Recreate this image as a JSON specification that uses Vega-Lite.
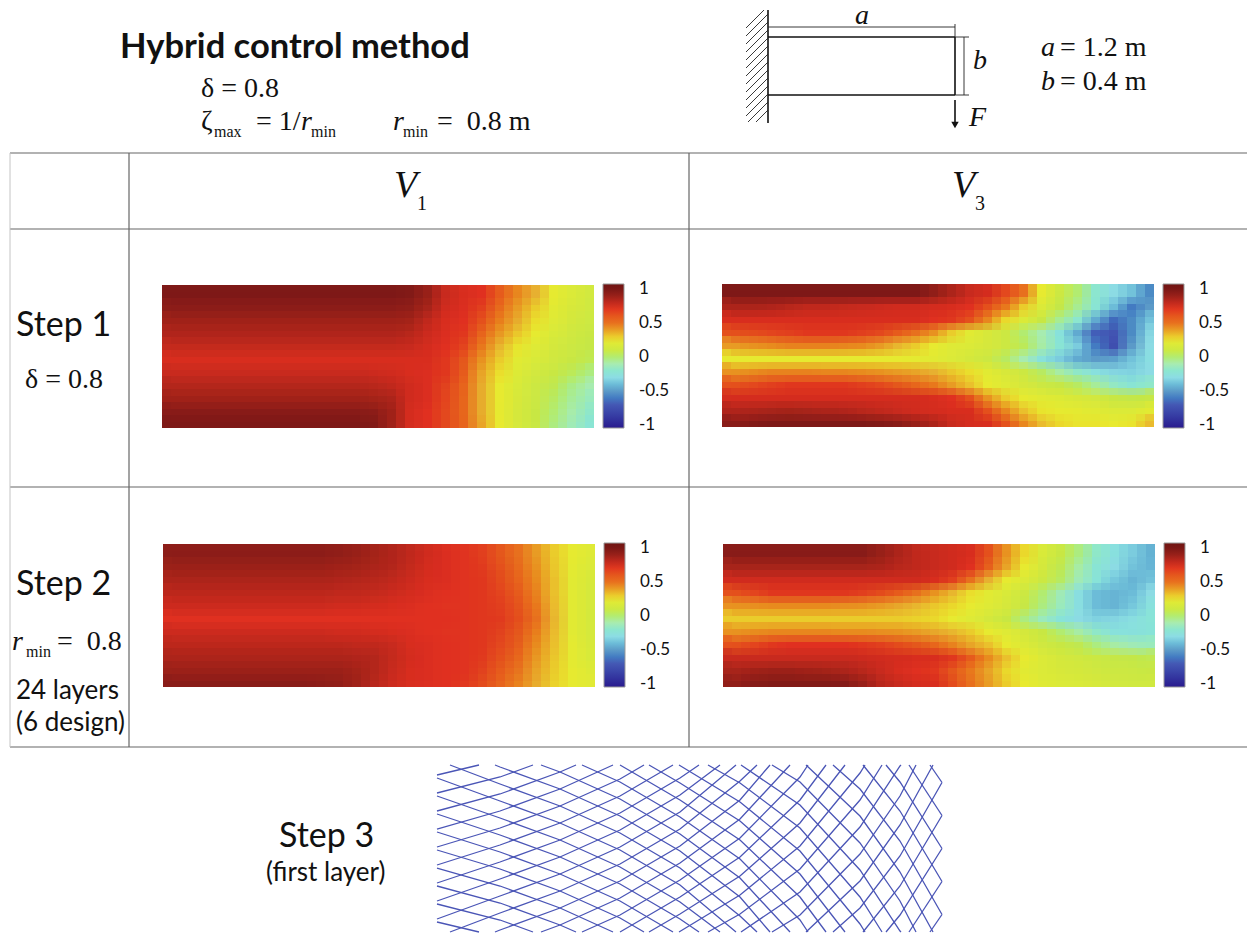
{"$schema":"https://vega.github.io/schema/vega-lite/v6.json","width":1247,"height":934,"padding":0,"autosize":{"type":"none"},"background":"white","config":{"view":{"stroke":null},"legend":{"orient":"none","direction":"vertical","title":null,"gradientLength":144,"gradientThickness":21,"gradientStrokeColor":"#999","gradientStrokeWidth":1}},
"datasets":{
"a":[{"i":0,"j":0,"v":0.97},{"i":1,"j":0,"v":0.97},{"i":2,"j":0,"v":0.97},{"i":3,"j":0,"v":0.97},{"i":4,"j":0,"v":0.97},{"i":5,"j":0,"v":0.97},{"i":6,"j":0,"v":0.97},{"i":7,"j":0,"v":0.97},{"i":8,"j":0,"v":0.97},{"i":9,"j":0,"v":0.97},{"i":10,"j":0,"v":0.97},{"i":11,"j":0,"v":0.97},{"i":12,"j":0,"v":0.97},{"i":13,"j":0,"v":0.96},{"i":14,"j":0,"v":0.9},{"i":15,"j":0,"v":0.78},{"i":16,"j":0,"v":0.74},{"i":17,"j":0,"v":0.72},{"i":18,"j":0,"v":0.58},{"i":19,"j":0,"v":0.45},{"i":20,"j":0,"v":0.35},{"i":21,"j":0,"v":0.24},{"i":22,"j":0,"v":0.18},{"i":23,"j":0,"v":0.13},
{"i":0,"j":1,"v":0.93},{"i":1,"j":1,"v":0.93},{"i":2,"j":1,"v":0.93},{"i":3,"j":1,"v":0.93},{"i":4,"j":1,"v":0.93},{"i":5,"j":1,"v":0.93},{"i":6,"j":1,"v":0.93},{"i":7,"j":1,"v":0.93},{"i":8,"j":1,"v":0.93},{"i":9,"j":1,"v":0.93},{"i":10,"j":1,"v":0.93},{"i":11,"j":1,"v":0.93},{"i":12,"j":1,"v":0.93},{"i":13,"j":1,"v":0.92},{"i":14,"j":1,"v":0.86},{"i":15,"j":1,"v":0.76},{"i":16,"j":1,"v":0.73},{"i":17,"j":1,"v":0.68},{"i":18,"j":1,"v":0.52},{"i":19,"j":1,"v":0.4},{"i":20,"j":1,"v":0.3},{"i":21,"j":1,"v":0.22},{"i":22,"j":1,"v":0.16},{"i":23,"j":1,"v":0.12},
{"i":0,"j":2,"v":0.88},{"i":1,"j":2,"v":0.88},{"i":2,"j":2,"v":0.88},{"i":3,"j":2,"v":0.88},{"i":4,"j":2,"v":0.88},{"i":5,"j":2,"v":0.88},{"i":6,"j":2,"v":0.88},{"i":7,"j":2,"v":0.88},{"i":8,"j":2,"v":0.88},{"i":9,"j":2,"v":0.88},{"i":10,"j":2,"v":0.88},{"i":11,"j":2,"v":0.88},{"i":12,"j":2,"v":0.88},{"i":13,"j":2,"v":0.87},{"i":14,"j":2,"v":0.8},{"i":15,"j":2,"v":0.74},{"i":16,"j":2,"v":0.72},{"i":17,"j":2,"v":0.62},{"i":18,"j":2,"v":0.47},{"i":19,"j":2,"v":0.36},{"i":20,"j":2,"v":0.27},{"i":21,"j":2,"v":0.2},{"i":22,"j":2,"v":0.14},{"i":23,"j":2,"v":0.1},
{"i":0,"j":3,"v":0.84},{"i":1,"j":3,"v":0.84},{"i":2,"j":3,"v":0.84},{"i":3,"j":3,"v":0.84},{"i":4,"j":3,"v":0.84},{"i":5,"j":3,"v":0.84},{"i":6,"j":3,"v":0.84},{"i":7,"j":3,"v":0.84},{"i":8,"j":3,"v":0.84},{"i":9,"j":3,"v":0.84},{"i":10,"j":3,"v":0.84},{"i":11,"j":3,"v":0.84},{"i":12,"j":3,"v":0.84},{"i":13,"j":3,"v":0.82},{"i":14,"j":3,"v":0.77},{"i":15,"j":3,"v":0.73},{"i":16,"j":3,"v":0.7},{"i":17,"j":3,"v":0.55},{"i":18,"j":3,"v":0.41},{"i":19,"j":3,"v":0.31},{"i":20,"j":3,"v":0.24},{"i":21,"j":3,"v":0.17},{"i":22,"j":3,"v":0.12},{"i":23,"j":3,"v":0.08},
{"i":0,"j":4,"v":0.79},{"i":1,"j":4,"v":0.79},{"i":2,"j":4,"v":0.79},{"i":3,"j":4,"v":0.79},{"i":4,"j":4,"v":0.79},{"i":5,"j":4,"v":0.79},{"i":6,"j":4,"v":0.79},{"i":7,"j":4,"v":0.79},{"i":8,"j":4,"v":0.79},{"i":9,"j":4,"v":0.79},{"i":10,"j":4,"v":0.79},{"i":11,"j":4,"v":0.79},{"i":12,"j":4,"v":0.79},{"i":13,"j":4,"v":0.78},{"i":14,"j":4,"v":0.75},{"i":15,"j":4,"v":0.72},{"i":16,"j":4,"v":0.66},{"i":17,"j":4,"v":0.48},{"i":18,"j":4,"v":0.34},{"i":19,"j":4,"v":0.26},{"i":20,"j":4,"v":0.2},{"i":21,"j":4,"v":0.14},{"i":22,"j":4,"v":0.1},{"i":23,"j":4,"v":0.06},
{"i":0,"j":5,"v":0.74},{"i":1,"j":5,"v":0.74},{"i":2,"j":5,"v":0.74},{"i":3,"j":5,"v":0.74},{"i":4,"j":5,"v":0.74},{"i":5,"j":5,"v":0.74},{"i":6,"j":5,"v":0.74},{"i":7,"j":5,"v":0.74},{"i":8,"j":5,"v":0.74},{"i":9,"j":5,"v":0.74},{"i":10,"j":5,"v":0.74},{"i":11,"j":5,"v":0.74},{"i":12,"j":5,"v":0.74},{"i":13,"j":5,"v":0.74},{"i":14,"j":5,"v":0.74},{"i":15,"j":5,"v":0.7},{"i":16,"j":5,"v":0.6},{"i":17,"j":5,"v":0.42},{"i":18,"j":5,"v":0.3},{"i":19,"j":5,"v":0.22},{"i":20,"j":5,"v":0.17},{"i":21,"j":5,"v":0.12},{"i":22,"j":5,"v":0.08},{"i":23,"j":5,"v":0.04},
{"i":0,"j":6,"v":0.78},{"i":1,"j":6,"v":0.78},{"i":2,"j":6,"v":0.78},{"i":3,"j":6,"v":0.78},{"i":4,"j":6,"v":0.78},{"i":5,"j":6,"v":0.78},{"i":6,"j":6,"v":0.78},{"i":7,"j":6,"v":0.78},{"i":8,"j":6,"v":0.78},{"i":9,"j":6,"v":0.78},{"i":10,"j":6,"v":0.78},{"i":11,"j":6,"v":0.77},{"i":12,"j":6,"v":0.76},{"i":13,"j":6,"v":0.74},{"i":14,"j":6,"v":0.73},{"i":15,"j":6,"v":0.7},{"i":16,"j":6,"v":0.58},{"i":17,"j":6,"v":0.38},{"i":18,"j":6,"v":0.27},{"i":19,"j":6,"v":0.19},{"i":20,"j":6,"v":0.13},{"i":21,"j":6,"v":0.08},{"i":22,"j":6,"v":0.03},{"i":23,"j":6,"v":-0.02},
{"i":0,"j":7,"v":0.83},{"i":1,"j":7,"v":0.83},{"i":2,"j":7,"v":0.83},{"i":3,"j":7,"v":0.83},{"i":4,"j":7,"v":0.83},{"i":5,"j":7,"v":0.83},{"i":6,"j":7,"v":0.83},{"i":7,"j":7,"v":0.83},{"i":8,"j":7,"v":0.83},{"i":9,"j":7,"v":0.83},{"i":10,"j":7,"v":0.83},{"i":11,"j":7,"v":0.82},{"i":12,"j":7,"v":0.8},{"i":13,"j":7,"v":0.76},{"i":14,"j":7,"v":0.73},{"i":15,"j":7,"v":0.67},{"i":16,"j":7,"v":0.55},{"i":17,"j":7,"v":0.36},{"i":18,"j":7,"v":0.25},{"i":19,"j":7,"v":0.17},{"i":20,"j":7,"v":0.1},{"i":21,"j":7,"v":0.04},{"i":22,"j":7,"v":-0.03},{"i":23,"j":7,"v":-0.1},
{"i":0,"j":8,"v":0.88},{"i":1,"j":8,"v":0.88},{"i":2,"j":8,"v":0.88},{"i":3,"j":8,"v":0.88},{"i":4,"j":8,"v":0.88},{"i":5,"j":8,"v":0.88},{"i":6,"j":8,"v":0.88},{"i":7,"j":8,"v":0.88},{"i":8,"j":8,"v":0.88},{"i":9,"j":8,"v":0.88},{"i":10,"j":8,"v":0.88},{"i":11,"j":8,"v":0.87},{"i":12,"j":8,"v":0.85},{"i":13,"j":8,"v":0.76},{"i":14,"j":8,"v":0.73},{"i":15,"j":8,"v":0.66},{"i":16,"j":8,"v":0.54},{"i":17,"j":8,"v":0.36},{"i":18,"j":8,"v":0.25},{"i":19,"j":8,"v":0.16},{"i":20,"j":8,"v":0.09},{"i":21,"j":8,"v":0.02},{"i":22,"j":8,"v":-0.06},{"i":23,"j":8,"v":-0.14},
{"i":0,"j":9,"v":0.94},{"i":1,"j":9,"v":0.94},{"i":2,"j":9,"v":0.94},{"i":3,"j":9,"v":0.94},{"i":4,"j":9,"v":0.94},{"i":5,"j":9,"v":0.94},{"i":6,"j":9,"v":0.94},{"i":7,"j":9,"v":0.94},{"i":8,"j":9,"v":0.94},{"i":9,"j":9,"v":0.94},{"i":10,"j":9,"v":0.94},{"i":11,"j":9,"v":0.93},{"i":12,"j":9,"v":0.88},{"i":13,"j":9,"v":0.75},{"i":14,"j":9,"v":0.72},{"i":15,"j":9,"v":0.65},{"i":16,"j":9,"v":0.54},{"i":17,"j":9,"v":0.36},{"i":18,"j":9,"v":0.24},{"i":19,"j":9,"v":0.15},{"i":20,"j":9,"v":0.08},{"i":21,"j":9,"v":0},{"i":22,"j":9,"v":-0.09},{"i":23,"j":9,"v":-0.18},
{"i":0,"j":10,"v":0.97},{"i":1,"j":10,"v":0.97},{"i":2,"j":10,"v":0.97},{"i":3,"j":10,"v":0.97},{"i":4,"j":10,"v":0.97},{"i":5,"j":10,"v":0.97},{"i":6,"j":10,"v":0.97},{"i":7,"j":10,"v":0.97},{"i":8,"j":10,"v":0.97},{"i":9,"j":10,"v":0.97},{"i":10,"j":10,"v":0.97},{"i":11,"j":10,"v":0.96},{"i":12,"j":10,"v":0.88},{"i":13,"j":10,"v":0.75},{"i":14,"j":10,"v":0.72},{"i":15,"j":10,"v":0.65},{"i":16,"j":10,"v":0.55},{"i":17,"j":10,"v":0.38},{"i":18,"j":10,"v":0.25},{"i":19,"j":10,"v":0.15},{"i":20,"j":10,"v":0.08},{"i":21,"j":10,"v":-0.02},{"i":22,"j":10,"v":-0.12},{"i":23,"j":10,"v":-0.22}],
"b":[{"i":0,"j":0,"v":0.97},{"i":1,"j":0,"v":0.97},{"i":2,"j":0,"v":0.97},{"i":3,"j":0,"v":0.97},{"i":4,"j":0,"v":0.97},{"i":5,"j":0,"v":0.97},{"i":6,"j":0,"v":0.97},{"i":7,"j":0,"v":0.97},{"i":8,"j":0,"v":0.97},{"i":9,"j":0,"v":0.97},{"i":10,"j":0,"v":0.97},{"i":11,"j":0,"v":0.92},{"i":12,"j":0,"v":0.85},{"i":13,"j":0,"v":0.78},{"i":14,"j":0,"v":0.75},{"i":15,"j":0,"v":0.65},{"i":16,"j":0,"v":0.5},{"i":17,"j":0,"v":0.25},{"i":18,"j":0,"v":0.1},{"i":19,"j":0,"v":0},{"i":20,"j":0,"v":-0.2},{"i":21,"j":0,"v":-0.3},{"i":22,"j":0,"v":-0.38},{"i":23,"j":0,"v":-0.55},
{"i":0,"j":1,"v":0.85},{"i":1,"j":1,"v":0.85},{"i":2,"j":1,"v":0.84},{"i":3,"j":1,"v":0.82},{"i":4,"j":1,"v":0.8},{"i":5,"j":1,"v":0.8},{"i":6,"j":1,"v":0.79},{"i":7,"j":1,"v":0.78},{"i":8,"j":1,"v":0.77},{"i":9,"j":1,"v":0.76},{"i":10,"j":1,"v":0.76},{"i":11,"j":1,"v":0.75},{"i":12,"j":1,"v":0.74},{"i":13,"j":1,"v":0.72},{"i":14,"j":1,"v":0.62},{"i":15,"j":1,"v":0.48},{"i":16,"j":1,"v":0.3},{"i":17,"j":1,"v":0.18},{"i":18,"j":1,"v":0.05},{"i":19,"j":1,"v":-0.05},{"i":20,"j":1,"v":-0.22},{"i":21,"j":1,"v":-0.4},{"i":22,"j":1,"v":-0.6},{"i":23,"j":1,"v":-0.5},
{"i":0,"j":2,"v":0.74},{"i":1,"j":2,"v":0.74},{"i":2,"j":2,"v":0.74},{"i":3,"j":2,"v":0.74},{"i":4,"j":2,"v":0.74},{"i":5,"j":2,"v":0.74},{"i":6,"j":2,"v":0.74},{"i":7,"j":2,"v":0.74},{"i":8,"j":2,"v":0.74},{"i":9,"j":2,"v":0.74},{"i":10,"j":2,"v":0.74},{"i":11,"j":2,"v":0.72},{"i":12,"j":2,"v":0.7},{"i":13,"j":2,"v":0.62},{"i":14,"j":2,"v":0.45},{"i":15,"j":2,"v":0.28},{"i":16,"j":2,"v":0.18},{"i":17,"j":2,"v":0.08},{"i":18,"j":2,"v":-0.05},{"i":19,"j":2,"v":-0.2},{"i":20,"j":2,"v":-0.45},{"i":21,"j":2,"v":-0.65},{"i":22,"j":2,"v":-0.55},{"i":23,"j":2,"v":-0.38},
{"i":0,"j":3,"v":0.62},{"i":1,"j":3,"v":0.64},{"i":2,"j":3,"v":0.66},{"i":3,"j":3,"v":0.68},{"i":4,"j":3,"v":0.7},{"i":5,"j":3,"v":0.7},{"i":6,"j":3,"v":0.7},{"i":7,"j":3,"v":0.68},{"i":8,"j":3,"v":0.65},{"i":9,"j":3,"v":0.58},{"i":10,"j":3,"v":0.5},{"i":11,"j":3,"v":0.42},{"i":12,"j":3,"v":0.3},{"i":13,"j":3,"v":0.22},{"i":14,"j":3,"v":0.16},{"i":15,"j":3,"v":0.1},{"i":16,"j":3,"v":0},{"i":17,"j":3,"v":-0.1},{"i":18,"j":3,"v":-0.25},{"i":19,"j":3,"v":-0.45},{"i":20,"j":3,"v":-0.68},{"i":21,"j":3,"v":-0.72},{"i":22,"j":3,"v":-0.55},{"i":23,"j":3,"v":-0.32},
{"i":0,"j":4,"v":0.4},{"i":1,"j":4,"v":0.42},{"i":2,"j":4,"v":0.44},{"i":3,"j":4,"v":0.46},{"i":4,"j":4,"v":0.46},{"i":5,"j":4,"v":0.46},{"i":6,"j":4,"v":0.45},{"i":7,"j":4,"v":0.44},{"i":8,"j":4,"v":0.4},{"i":9,"j":4,"v":0.34},{"i":10,"j":4,"v":0.3},{"i":11,"j":4,"v":0.25},{"i":12,"j":4,"v":0.2},{"i":13,"j":4,"v":0.18},{"i":14,"j":4,"v":0.15},{"i":15,"j":4,"v":0.1},{"i":16,"j":4,"v":0.03},{"i":17,"j":4,"v":-0.08},{"i":18,"j":4,"v":-0.22},{"i":19,"j":4,"v":-0.35},{"i":20,"j":4,"v":-0.6},{"i":21,"j":4,"v":-0.75},{"i":22,"j":4,"v":-0.5},{"i":23,"j":4,"v":-0.3},
{"i":0,"j":5,"v":0.24},{"i":1,"j":5,"v":0.24},{"i":2,"j":5,"v":0.24},{"i":3,"j":5,"v":0.24},{"i":4,"j":5,"v":0.24},{"i":5,"j":5,"v":0.24},{"i":6,"j":5,"v":0.24},{"i":7,"j":5,"v":0.24},{"i":8,"j":5,"v":0.24},{"i":9,"j":5,"v":0.24},{"i":10,"j":5,"v":0.23},{"i":11,"j":5,"v":0.22},{"i":12,"j":5,"v":0.18},{"i":13,"j":5,"v":0.14},{"i":14,"j":5,"v":0.1},{"i":15,"j":5,"v":0.02},{"i":16,"j":5,"v":-0.1},{"i":17,"j":5,"v":-0.25},{"i":18,"j":5,"v":-0.35},{"i":19,"j":5,"v":-0.45},{"i":20,"j":5,"v":-0.5},{"i":21,"j":5,"v":-0.48},{"i":22,"j":5,"v":-0.38},{"i":23,"j":5,"v":-0.28},
{"i":0,"j":6,"v":0.42},{"i":1,"j":6,"v":0.44},{"i":2,"j":6,"v":0.46},{"i":3,"j":6,"v":0.46},{"i":4,"j":6,"v":0.46},{"i":5,"j":6,"v":0.45},{"i":6,"j":6,"v":0.45},{"i":7,"j":6,"v":0.44},{"i":8,"j":6,"v":0.42},{"i":9,"j":6,"v":0.4},{"i":10,"j":6,"v":0.38},{"i":11,"j":6,"v":0.35},{"i":12,"j":6,"v":0.31},{"i":13,"j":6,"v":0.27},{"i":14,"j":6,"v":0.22},{"i":15,"j":6,"v":0.16},{"i":16,"j":6,"v":0.1},{"i":17,"j":6,"v":0.02},{"i":18,"j":6,"v":-0.08},{"i":19,"j":6,"v":-0.18},{"i":20,"j":6,"v":-0.27},{"i":21,"j":6,"v":-0.32},{"i":22,"j":6,"v":-0.33},{"i":23,"j":6,"v":-0.3},
{"i":0,"j":7,"v":0.62},{"i":1,"j":7,"v":0.65},{"i":2,"j":7,"v":0.68},{"i":3,"j":7,"v":0.7},{"i":4,"j":7,"v":0.7},{"i":5,"j":7,"v":0.7},{"i":6,"j":7,"v":0.7},{"i":7,"j":7,"v":0.68},{"i":8,"j":7,"v":0.65},{"i":9,"j":7,"v":0.6},{"i":10,"j":7,"v":0.54},{"i":11,"j":7,"v":0.48},{"i":12,"j":7,"v":0.4},{"i":13,"j":7,"v":0.32},{"i":14,"j":7,"v":0.25},{"i":15,"j":7,"v":0.2},{"i":16,"j":7,"v":0.15},{"i":17,"j":7,"v":0.1},{"i":18,"j":7,"v":0.06},{"i":19,"j":7,"v":0.02},{"i":20,"j":7,"v":-0.06},{"i":21,"j":7,"v":-0.16},{"i":22,"j":7,"v":-0.22},{"i":23,"j":7,"v":-0.18},
{"i":0,"j":8,"v":0.75},{"i":1,"j":8,"v":0.75},{"i":2,"j":8,"v":0.75},{"i":3,"j":8,"v":0.75},{"i":4,"j":8,"v":0.75},{"i":5,"j":8,"v":0.75},{"i":6,"j":8,"v":0.75},{"i":7,"j":8,"v":0.75},{"i":8,"j":8,"v":0.75},{"i":9,"j":8,"v":0.75},{"i":10,"j":8,"v":0.75},{"i":11,"j":8,"v":0.74},{"i":12,"j":8,"v":0.72},{"i":13,"j":8,"v":0.62},{"i":14,"j":8,"v":0.42},{"i":15,"j":8,"v":0.3},{"i":16,"j":8,"v":0.24},{"i":17,"j":8,"v":0.21},{"i":18,"j":8,"v":0.19},{"i":19,"j":8,"v":0.16},{"i":20,"j":8,"v":0.13},{"i":21,"j":8,"v":0.08},{"i":22,"j":8,"v":0.05},{"i":23,"j":8,"v":0.06},
{"i":0,"j":9,"v":0.84},{"i":1,"j":9,"v":0.85},{"i":2,"j":9,"v":0.86},{"i":3,"j":9,"v":0.87},{"i":4,"j":9,"v":0.86},{"i":5,"j":9,"v":0.85},{"i":6,"j":9,"v":0.84},{"i":7,"j":9,"v":0.82},{"i":8,"j":9,"v":0.8},{"i":9,"j":9,"v":0.78},{"i":10,"j":9,"v":0.76},{"i":11,"j":9,"v":0.75},{"i":12,"j":9,"v":0.74},{"i":13,"j":9,"v":0.74},{"i":14,"j":9,"v":0.62},{"i":15,"j":9,"v":0.45},{"i":16,"j":9,"v":0.32},{"i":17,"j":9,"v":0.26},{"i":18,"j":9,"v":0.24},{"i":19,"j":9,"v":0.23},{"i":20,"j":9,"v":0.21},{"i":21,"j":9,"v":0.18},{"i":22,"j":9,"v":0.18},{"i":23,"j":9,"v":0.22},
{"i":0,"j":10,"v":0.94},{"i":1,"j":10,"v":0.96},{"i":2,"j":10,"v":0.97},{"i":3,"j":10,"v":0.97},{"i":4,"j":10,"v":0.97},{"i":5,"j":10,"v":0.97},{"i":6,"j":10,"v":0.97},{"i":7,"j":10,"v":0.97},{"i":8,"j":10,"v":0.96},{"i":9,"j":10,"v":0.94},{"i":10,"j":10,"v":0.9},{"i":11,"j":10,"v":0.85},{"i":12,"j":10,"v":0.78},{"i":13,"j":10,"v":0.75},{"i":14,"j":10,"v":0.74},{"i":15,"j":10,"v":0.62},{"i":16,"j":10,"v":0.45},{"i":17,"j":10,"v":0.33},{"i":18,"j":10,"v":0.28},{"i":19,"j":10,"v":0.26},{"i":20,"j":10,"v":0.26},{"i":21,"j":10,"v":0.25},{"i":22,"j":10,"v":0.26},{"i":23,"j":10,"v":0.33}],
"c":[{"i":0,"j":0,"v":0.93},{"i":1,"j":0,"v":0.93},{"i":2,"j":0,"v":0.93},{"i":3,"j":0,"v":0.93},{"i":4,"j":0,"v":0.93},{"i":5,"j":0,"v":0.93},{"i":6,"j":0,"v":0.93},{"i":7,"j":0,"v":0.93},{"i":8,"j":0,"v":0.93},{"i":9,"j":0,"v":0.92},{"i":10,"j":0,"v":0.9},{"i":11,"j":0,"v":0.87},{"i":12,"j":0,"v":0.84},{"i":13,"j":0,"v":0.8},{"i":14,"j":0,"v":0.76},{"i":15,"j":0,"v":0.73},{"i":16,"j":0,"v":0.71},{"i":17,"j":0,"v":0.68},{"i":18,"j":0,"v":0.6},{"i":19,"j":0,"v":0.5},{"i":20,"j":0,"v":0.4},{"i":21,"j":0,"v":0.3},{"i":22,"j":0,"v":0.24},{"i":23,"j":0,"v":0.2},
{"i":0,"j":1,"v":0.89},{"i":1,"j":1,"v":0.89},{"i":2,"j":1,"v":0.89},{"i":3,"j":1,"v":0.89},{"i":4,"j":1,"v":0.89},{"i":5,"j":1,"v":0.89},{"i":6,"j":1,"v":0.89},{"i":7,"j":1,"v":0.89},{"i":8,"j":1,"v":0.89},{"i":9,"j":1,"v":0.88},{"i":10,"j":1,"v":0.87},{"i":11,"j":1,"v":0.85},{"i":12,"j":1,"v":0.83},{"i":13,"j":1,"v":0.79},{"i":14,"j":1,"v":0.75},{"i":15,"j":1,"v":0.73},{"i":16,"j":1,"v":0.71},{"i":17,"j":1,"v":0.69},{"i":18,"j":1,"v":0.62},{"i":19,"j":1,"v":0.52},{"i":20,"j":1,"v":0.42},{"i":21,"j":1,"v":0.31},{"i":22,"j":1,"v":0.23},{"i":23,"j":1,"v":0.18},
{"i":0,"j":2,"v":0.85},{"i":1,"j":2,"v":0.85},{"i":2,"j":2,"v":0.85},{"i":3,"j":2,"v":0.85},{"i":4,"j":2,"v":0.85},{"i":5,"j":2,"v":0.85},{"i":6,"j":2,"v":0.85},{"i":7,"j":2,"v":0.85},{"i":8,"j":2,"v":0.85},{"i":9,"j":2,"v":0.84},{"i":10,"j":2,"v":0.83},{"i":11,"j":2,"v":0.82},{"i":12,"j":2,"v":0.8},{"i":13,"j":2,"v":0.77},{"i":14,"j":2,"v":0.74},{"i":15,"j":2,"v":0.73},{"i":16,"j":2,"v":0.71},{"i":17,"j":2,"v":0.7},{"i":18,"j":2,"v":0.64},{"i":19,"j":2,"v":0.55},{"i":20,"j":2,"v":0.44},{"i":21,"j":2,"v":0.32},{"i":22,"j":2,"v":0.22},{"i":23,"j":2,"v":0.16},
{"i":0,"j":3,"v":0.81},{"i":1,"j":3,"v":0.81},{"i":2,"j":3,"v":0.81},{"i":3,"j":3,"v":0.81},{"i":4,"j":3,"v":0.81},{"i":5,"j":3,"v":0.81},{"i":6,"j":3,"v":0.81},{"i":7,"j":3,"v":0.81},{"i":8,"j":3,"v":0.81},{"i":9,"j":3,"v":0.8},{"i":10,"j":3,"v":0.8},{"i":11,"j":3,"v":0.79},{"i":12,"j":3,"v":0.77},{"i":13,"j":3,"v":0.75},{"i":14,"j":3,"v":0.73},{"i":15,"j":3,"v":0.72},{"i":16,"j":3,"v":0.71},{"i":17,"j":3,"v":0.7},{"i":18,"j":3,"v":0.66},{"i":19,"j":3,"v":0.58},{"i":20,"j":3,"v":0.46},{"i":21,"j":3,"v":0.32},{"i":22,"j":3,"v":0.22},{"i":23,"j":3,"v":0.15},
{"i":0,"j":4,"v":0.77},{"i":1,"j":4,"v":0.77},{"i":2,"j":4,"v":0.77},{"i":3,"j":4,"v":0.77},{"i":4,"j":4,"v":0.77},{"i":5,"j":4,"v":0.77},{"i":6,"j":4,"v":0.77},{"i":7,"j":4,"v":0.77},{"i":8,"j":4,"v":0.77},{"i":9,"j":4,"v":0.76},{"i":10,"j":4,"v":0.76},{"i":11,"j":4,"v":0.75},{"i":12,"j":4,"v":0.74},{"i":13,"j":4,"v":0.73},{"i":14,"j":4,"v":0.72},{"i":15,"j":4,"v":0.71},{"i":16,"j":4,"v":0.71},{"i":17,"j":4,"v":0.7},{"i":18,"j":4,"v":0.68},{"i":19,"j":4,"v":0.61},{"i":20,"j":4,"v":0.48},{"i":21,"j":4,"v":0.33},{"i":22,"j":4,"v":0.22},{"i":23,"j":4,"v":0.15},
{"i":0,"j":5,"v":0.72},{"i":1,"j":5,"v":0.72},{"i":2,"j":5,"v":0.72},{"i":3,"j":5,"v":0.72},{"i":4,"j":5,"v":0.72},{"i":5,"j":5,"v":0.72},{"i":6,"j":5,"v":0.72},{"i":7,"j":5,"v":0.72},{"i":8,"j":5,"v":0.72},{"i":9,"j":5,"v":0.72},{"i":10,"j":5,"v":0.72},{"i":11,"j":5,"v":0.72},{"i":12,"j":5,"v":0.72},{"i":13,"j":5,"v":0.72},{"i":14,"j":5,"v":0.72},{"i":15,"j":5,"v":0.72},{"i":16,"j":5,"v":0.71},{"i":17,"j":5,"v":0.7},{"i":18,"j":5,"v":0.69},{"i":19,"j":5,"v":0.63},{"i":20,"j":5,"v":0.5},{"i":21,"j":5,"v":0.34},{"i":22,"j":5,"v":0.22},{"i":23,"j":5,"v":0.14},
{"i":0,"j":6,"v":0.77},{"i":1,"j":6,"v":0.77},{"i":2,"j":6,"v":0.77},{"i":3,"j":6,"v":0.77},{"i":4,"j":6,"v":0.77},{"i":5,"j":6,"v":0.77},{"i":6,"j":6,"v":0.77},{"i":7,"j":6,"v":0.77},{"i":8,"j":6,"v":0.77},{"i":9,"j":6,"v":0.76},{"i":10,"j":6,"v":0.76},{"i":11,"j":6,"v":0.75},{"i":12,"j":6,"v":0.74},{"i":13,"j":6,"v":0.73},{"i":14,"j":6,"v":0.72},{"i":15,"j":6,"v":0.71},{"i":16,"j":6,"v":0.71},{"i":17,"j":6,"v":0.7},{"i":18,"j":6,"v":0.67},{"i":19,"j":6,"v":0.6},{"i":20,"j":6,"v":0.47},{"i":21,"j":6,"v":0.33},{"i":22,"j":6,"v":0.22},{"i":23,"j":6,"v":0.15},
{"i":0,"j":7,"v":0.81},{"i":1,"j":7,"v":0.81},{"i":2,"j":7,"v":0.81},{"i":3,"j":7,"v":0.81},{"i":4,"j":7,"v":0.81},{"i":5,"j":7,"v":0.81},{"i":6,"j":7,"v":0.81},{"i":7,"j":7,"v":0.81},{"i":8,"j":7,"v":0.81},{"i":9,"j":7,"v":0.81},{"i":10,"j":7,"v":0.8},{"i":11,"j":7,"v":0.8},{"i":12,"j":7,"v":0.78},{"i":13,"j":7,"v":0.74},{"i":14,"j":7,"v":0.73},{"i":15,"j":7,"v":0.72},{"i":16,"j":7,"v":0.71},{"i":17,"j":7,"v":0.7},{"i":18,"j":7,"v":0.65},{"i":19,"j":7,"v":0.57},{"i":20,"j":7,"v":0.44},{"i":21,"j":7,"v":0.32},{"i":22,"j":7,"v":0.23},{"i":23,"j":7,"v":0.16},
{"i":0,"j":8,"v":0.85},{"i":1,"j":8,"v":0.85},{"i":2,"j":8,"v":0.85},{"i":3,"j":8,"v":0.85},{"i":4,"j":8,"v":0.85},{"i":5,"j":8,"v":0.85},{"i":6,"j":8,"v":0.85},{"i":7,"j":8,"v":0.85},{"i":8,"j":8,"v":0.85},{"i":9,"j":8,"v":0.85},{"i":10,"j":8,"v":0.84},{"i":11,"j":8,"v":0.83},{"i":12,"j":8,"v":0.79},{"i":13,"j":8,"v":0.75},{"i":14,"j":8,"v":0.73},{"i":15,"j":8,"v":0.72},{"i":16,"j":8,"v":0.71},{"i":17,"j":8,"v":0.69},{"i":18,"j":8,"v":0.62},{"i":19,"j":8,"v":0.53},{"i":20,"j":8,"v":0.41},{"i":21,"j":8,"v":0.31},{"i":22,"j":8,"v":0.23},{"i":23,"j":8,"v":0.17},
{"i":0,"j":9,"v":0.89},{"i":1,"j":9,"v":0.89},{"i":2,"j":9,"v":0.89},{"i":3,"j":9,"v":0.89},{"i":4,"j":9,"v":0.89},{"i":5,"j":9,"v":0.89},{"i":6,"j":9,"v":0.89},{"i":7,"j":9,"v":0.89},{"i":8,"j":9,"v":0.89},{"i":9,"j":9,"v":0.89},{"i":10,"j":9,"v":0.87},{"i":11,"j":9,"v":0.83},{"i":12,"j":9,"v":0.78},{"i":13,"j":9,"v":0.74},{"i":14,"j":9,"v":0.73},{"i":15,"j":9,"v":0.72},{"i":16,"j":9,"v":0.71},{"i":17,"j":9,"v":0.67},{"i":18,"j":9,"v":0.58},{"i":19,"j":9,"v":0.49},{"i":20,"j":9,"v":0.38},{"i":21,"j":9,"v":0.3},{"i":22,"j":9,"v":0.24},{"i":23,"j":9,"v":0.19},
{"i":0,"j":10,"v":0.94},{"i":1,"j":10,"v":0.94},{"i":2,"j":10,"v":0.94},{"i":3,"j":10,"v":0.94},{"i":4,"j":10,"v":0.94},{"i":5,"j":10,"v":0.94},{"i":6,"j":10,"v":0.94},{"i":7,"j":10,"v":0.94},{"i":8,"j":10,"v":0.93},{"i":9,"j":10,"v":0.92},{"i":10,"j":10,"v":0.88},{"i":11,"j":10,"v":0.82},{"i":12,"j":10,"v":0.77},{"i":13,"j":10,"v":0.74},{"i":14,"j":10,"v":0.73},{"i":15,"j":10,"v":0.72},{"i":16,"j":10,"v":0.7},{"i":17,"j":10,"v":0.64},{"i":18,"j":10,"v":0.55},{"i":19,"j":10,"v":0.46},{"i":20,"j":10,"v":0.36},{"i":21,"j":10,"v":0.29},{"i":22,"j":10,"v":0.24},{"i":23,"j":10,"v":0.21}],
"d":[{"i":0,"j":0,"v":0.94},{"i":1,"j":0,"v":0.94},{"i":2,"j":0,"v":0.94},{"i":3,"j":0,"v":0.94},{"i":4,"j":0,"v":0.94},{"i":5,"j":0,"v":0.94},{"i":6,"j":0,"v":0.94},{"i":7,"j":0,"v":0.94},{"i":8,"j":0,"v":0.9},{"i":9,"j":0,"v":0.85},{"i":10,"j":0,"v":0.8},{"i":11,"j":0,"v":0.78},{"i":12,"j":0,"v":0.76},{"i":13,"j":0,"v":0.74},{"i":14,"j":0,"v":0.62},{"i":15,"j":0,"v":0.42},{"i":16,"j":0,"v":0.28},{"i":17,"j":0,"v":0.17},{"i":18,"j":0,"v":0.08},{"i":19,"j":0,"v":-0.02},{"i":20,"j":0,"v":-0.18},{"i":21,"j":0,"v":-0.27},{"i":22,"j":0,"v":-0.35},{"i":23,"j":0,"v":-0.43},
{"i":0,"j":1,"v":0.86},{"i":1,"j":1,"v":0.86},{"i":2,"j":1,"v":0.86},{"i":3,"j":1,"v":0.86},{"i":4,"j":1,"v":0.86},{"i":5,"j":1,"v":0.86},{"i":6,"j":1,"v":0.86},{"i":7,"j":1,"v":0.86},{"i":8,"j":1,"v":0.85},{"i":9,"j":1,"v":0.82},{"i":10,"j":1,"v":0.8},{"i":11,"j":1,"v":0.78},{"i":12,"j":1,"v":0.76},{"i":13,"j":1,"v":0.72},{"i":14,"j":1,"v":0.56},{"i":15,"j":1,"v":0.38},{"i":16,"j":1,"v":0.25},{"i":17,"j":1,"v":0.14},{"i":18,"j":1,"v":0.04},{"i":19,"j":1,"v":-0.08},{"i":20,"j":1,"v":-0.22},{"i":21,"j":1,"v":-0.3},{"i":22,"j":1,"v":-0.38},{"i":23,"j":1,"v":-0.42},
{"i":0,"j":2,"v":0.76},{"i":1,"j":2,"v":0.76},{"i":2,"j":2,"v":0.76},{"i":3,"j":2,"v":0.76},{"i":4,"j":2,"v":0.76},{"i":5,"j":2,"v":0.76},{"i":6,"j":2,"v":0.76},{"i":7,"j":2,"v":0.76},{"i":8,"j":2,"v":0.76},{"i":9,"j":2,"v":0.76},{"i":10,"j":2,"v":0.76},{"i":11,"j":2,"v":0.74},{"i":12,"j":2,"v":0.68},{"i":13,"j":2,"v":0.5},{"i":14,"j":2,"v":0.35},{"i":15,"j":2,"v":0.25},{"i":16,"j":2,"v":0.18},{"i":17,"j":2,"v":0.1},{"i":18,"j":2,"v":0.02},{"i":19,"j":2,"v":-0.12},{"i":20,"j":2,"v":-0.24},{"i":21,"j":2,"v":-0.36},{"i":22,"j":2,"v":-0.42},{"i":23,"j":2,"v":-0.38},
{"i":0,"j":3,"v":0.62},{"i":1,"j":3,"v":0.66},{"i":2,"j":3,"v":0.7},{"i":3,"j":3,"v":0.7},{"i":4,"j":3,"v":0.7},{"i":5,"j":3,"v":0.7},{"i":6,"j":3,"v":0.7},{"i":7,"j":3,"v":0.68},{"i":8,"j":3,"v":0.64},{"i":9,"j":3,"v":0.58},{"i":10,"j":3,"v":0.5},{"i":11,"j":3,"v":0.42},{"i":12,"j":3,"v":0.34},{"i":13,"j":3,"v":0.27},{"i":14,"j":3,"v":0.22},{"i":15,"j":3,"v":0.17},{"i":16,"j":3,"v":0.1},{"i":17,"j":3,"v":0},{"i":18,"j":3,"v":-0.12},{"i":19,"j":3,"v":-0.28},{"i":20,"j":3,"v":-0.4},{"i":21,"j":3,"v":-0.42},{"i":22,"j":3,"v":-0.4},{"i":23,"j":3,"v":-0.3},
{"i":0,"j":4,"v":0.42},{"i":1,"j":4,"v":0.43},{"i":2,"j":4,"v":0.44},{"i":3,"j":4,"v":0.44},{"i":4,"j":4,"v":0.44},{"i":5,"j":4,"v":0.44},{"i":6,"j":4,"v":0.43},{"i":7,"j":4,"v":0.42},{"i":8,"j":4,"v":0.4},{"i":9,"j":4,"v":0.37},{"i":10,"j":4,"v":0.34},{"i":11,"j":4,"v":0.31},{"i":12,"j":4,"v":0.28},{"i":13,"j":4,"v":0.25},{"i":14,"j":4,"v":0.2},{"i":15,"j":4,"v":0.15},{"i":16,"j":4,"v":0.07},{"i":17,"j":4,"v":-0.02},{"i":18,"j":4,"v":-0.14},{"i":19,"j":4,"v":-0.28},{"i":20,"j":4,"v":-0.4},{"i":21,"j":4,"v":-0.42},{"i":22,"j":4,"v":-0.36},{"i":23,"j":4,"v":-0.26},
{"i":0,"j":5,"v":0.3},{"i":1,"j":5,"v":0.3},{"i":2,"j":5,"v":0.3},{"i":3,"j":5,"v":0.3},{"i":4,"j":5,"v":0.3},{"i":5,"j":5,"v":0.3},{"i":6,"j":5,"v":0.3},{"i":7,"j":5,"v":0.3},{"i":8,"j":5,"v":0.3},{"i":9,"j":5,"v":0.3},{"i":10,"j":5,"v":0.29},{"i":11,"j":5,"v":0.28},{"i":12,"j":5,"v":0.25},{"i":13,"j":5,"v":0.2},{"i":14,"j":5,"v":0.14},{"i":15,"j":5,"v":0.08},{"i":16,"j":5,"v":-0.02},{"i":17,"j":5,"v":-0.14},{"i":18,"j":5,"v":-0.24},{"i":19,"j":5,"v":-0.3},{"i":20,"j":5,"v":-0.33},{"i":21,"j":5,"v":-0.32},{"i":22,"j":5,"v":-0.28},{"i":23,"j":5,"v":-0.23},
{"i":0,"j":6,"v":0.42},{"i":1,"j":6,"v":0.44},{"i":2,"j":6,"v":0.45},{"i":3,"j":6,"v":0.45},{"i":4,"j":6,"v":0.45},{"i":5,"j":6,"v":0.45},{"i":6,"j":6,"v":0.44},{"i":7,"j":6,"v":0.44},{"i":8,"j":6,"v":0.43},{"i":9,"j":6,"v":0.42},{"i":10,"j":6,"v":0.4},{"i":11,"j":6,"v":0.37},{"i":12,"j":6,"v":0.34},{"i":13,"j":6,"v":0.3},{"i":14,"j":6,"v":0.25},{"i":15,"j":6,"v":0.2},{"i":16,"j":6,"v":0.14},{"i":17,"j":6,"v":0.08},{"i":18,"j":6,"v":0},{"i":19,"j":6,"v":-0.08},{"i":20,"j":6,"v":-0.18},{"i":21,"j":6,"v":-0.25},{"i":22,"j":6,"v":-0.26},{"i":23,"j":6,"v":-0.24},
{"i":0,"j":7,"v":0.62},{"i":1,"j":7,"v":0.66},{"i":2,"j":7,"v":0.7},{"i":3,"j":7,"v":0.72},{"i":4,"j":7,"v":0.72},{"i":5,"j":7,"v":0.72},{"i":6,"j":7,"v":0.72},{"i":7,"j":7,"v":0.7},{"i":8,"j":7,"v":0.68},{"i":9,"j":7,"v":0.64},{"i":10,"j":7,"v":0.6},{"i":11,"j":7,"v":0.54},{"i":12,"j":7,"v":0.46},{"i":13,"j":7,"v":0.38},{"i":14,"j":7,"v":0.32},{"i":15,"j":7,"v":0.25},{"i":16,"j":7,"v":0.18},{"i":17,"j":7,"v":0.12},{"i":18,"j":7,"v":0.08},{"i":19,"j":7,"v":0.04},{"i":20,"j":7,"v":-0.02},{"i":21,"j":7,"v":-0.08},{"i":22,"j":7,"v":-0.12},{"i":23,"j":7,"v":-0.14},
{"i":0,"j":8,"v":0.78},{"i":1,"j":8,"v":0.78},{"i":2,"j":8,"v":0.78},{"i":3,"j":8,"v":0.78},{"i":4,"j":8,"v":0.78},{"i":5,"j":8,"v":0.78},{"i":6,"j":8,"v":0.78},{"i":7,"j":8,"v":0.77},{"i":8,"j":8,"v":0.76},{"i":9,"j":8,"v":0.75},{"i":10,"j":8,"v":0.74},{"i":11,"j":8,"v":0.74},{"i":12,"j":8,"v":0.7},{"i":13,"j":8,"v":0.58},{"i":14,"j":8,"v":0.44},{"i":15,"j":8,"v":0.32},{"i":16,"j":8,"v":0.25},{"i":17,"j":8,"v":0.18},{"i":18,"j":8,"v":0.14},{"i":19,"j":8,"v":0.12},{"i":20,"j":8,"v":0.09},{"i":21,"j":8,"v":0.06},{"i":22,"j":8,"v":0.05},{"i":23,"j":8,"v":0.04},
{"i":0,"j":9,"v":0.86},{"i":1,"j":9,"v":0.88},{"i":2,"j":9,"v":0.89},{"i":3,"j":9,"v":0.89},{"i":4,"j":9,"v":0.88},{"i":5,"j":9,"v":0.87},{"i":6,"j":9,"v":0.85},{"i":7,"j":9,"v":0.82},{"i":8,"j":9,"v":0.78},{"i":9,"j":9,"v":0.74},{"i":10,"j":9,"v":0.72},{"i":11,"j":9,"v":0.7},{"i":12,"j":9,"v":0.6},{"i":13,"j":9,"v":0.48},{"i":14,"j":9,"v":0.38},{"i":15,"j":9,"v":0.28},{"i":16,"j":9,"v":0.22},{"i":17,"j":9,"v":0.18},{"i":18,"j":9,"v":0.16},{"i":19,"j":9,"v":0.14},{"i":20,"j":9,"v":0.12},{"i":21,"j":9,"v":0.1},{"i":22,"j":9,"v":0.09},{"i":23,"j":9,"v":0.08},
{"i":0,"j":10,"v":0.92},{"i":1,"j":10,"v":0.95},{"i":2,"j":10,"v":0.96},{"i":3,"j":10,"v":0.96},{"i":4,"j":10,"v":0.96},{"i":5,"j":10,"v":0.96},{"i":6,"j":10,"v":0.95},{"i":7,"j":10,"v":0.9},{"i":8,"j":10,"v":0.82},{"i":9,"j":10,"v":0.78},{"i":10,"j":10,"v":0.75},{"i":11,"j":10,"v":0.74},{"i":12,"j":10,"v":0.64},{"i":13,"j":10,"v":0.5},{"i":14,"j":10,"v":0.4},{"i":15,"j":10,"v":0.3},{"i":16,"j":10,"v":0.25},{"i":17,"j":10,"v":0.2},{"i":18,"j":10,"v":0.18},{"i":19,"j":10,"v":0.17},{"i":20,"j":10,"v":0.15},{"i":21,"j":10,"v":0.13},{"i":22,"j":10,"v":0.12},{"i":23,"j":10,"v":0.12}],
"fibre":[{"k":-5,"x":0,"y":157},{"k":-5,"x":42,"y":167},{"k":-4,"x":0,"y":139},{"k":-4,"x":63,"y":155},{"k":-4,"x":96,"y":167},{"k":-3,"x":0,"y":121},{"k":-3,"x":63,"y":138},{"k":-3,"x":123,"y":160},{"k":-3,"x":139,"y":167},{"k":-2,"x":0,"y":103},{"k":-2,"x":63,"y":121},{"k":-2,"x":123,"y":143},{"k":-2,"x":176,"y":167},{"k":-1,"x":0,"y":85},{"k":-1,"x":63,"y":104},{"k":-1,"x":123,"y":126},{"k":-1,"x":183,"y":153},{"k":-1,"x":207,"y":167},{"k":0,"x":0,"y":67},{"k":0,"x":63,"y":87},{"k":0,"x":123,"y":109},{"k":0,"x":183,"y":136},{"k":0,"x":236,"y":167},{"k":1,"x":0,"y":49},{"k":1,"x":63,"y":70},{"k":1,"x":123,"y":92},{"k":1,"x":183,"y":119},{"k":1,"x":243,"y":154},{"k":1,"x":262,"y":167},{"k":2,"x":0,"y":31},{"k":2,"x":63,"y":53},{"k":2,"x":123,"y":75},{"k":2,"x":183,"y":102},{"k":2,"x":243,"y":137},{"k":2,"x":283,"y":167},{"k":3,"x":0,"y":13},{"k":3,"x":63,"y":36},{"k":3,"x":123,"y":58},{"k":3,"x":183,"y":85},{"k":3,"x":243,"y":120},{"k":3,"x":299,"y":167},{"k":4,"x":13,"y":0},{"k":4,"x":63,"y":19},{"k":4,"x":123,"y":41},{"k":4,"x":183,"y":68},{"k":4,"x":243,"y":103},{"k":4,"x":303,"y":151},{"k":4,"x":320,"y":167},{"k":5,"x":58,"y":0},{"k":5,"x":63,"y":2},{"k":5,"x":123,"y":24},{"k":5,"x":183,"y":51},{"k":5,"x":243,"y":86},{"k":5,"x":303,"y":132},{"k":5,"x":333,"y":167},{"k":6,"x":104,"y":0},{"k":6,"x":123,"y":7},{"k":6,"x":183,"y":34},{"k":6,"x":243,"y":69},{"k":6,"x":303,"y":113},{"k":6,"x":353,"y":167},{"k":7,"x":145,"y":0},{"k":7,"x":183,"y":17},{"k":7,"x":243,"y":52},{"k":7,"x":303,"y":94},{"k":7,"x":363,"y":155},{"k":7,"x":371,"y":167},{"k":8,"x":183,"y":0},{"k":8,"x":243,"y":35},{"k":8,"x":303,"y":75},{"k":8,"x":363,"y":132},{"k":8,"x":389,"y":167},{"k":9,"x":212,"y":0},{"k":9,"x":243,"y":18},{"k":9,"x":303,"y":56},{"k":9,"x":363,"y":109},{"k":9,"x":408,"y":167},{"k":10,"x":242,"y":0},{"k":10,"x":303,"y":37},{"k":10,"x":363,"y":86},{"k":10,"x":423,"y":159},{"k":10,"x":428,"y":167},{"k":11,"x":271,"y":0},{"k":11,"x":303,"y":18},{"k":11,"x":363,"y":63},{"k":11,"x":423,"y":132},{"k":11,"x":445,"y":167},{"k":12,"x":304,"y":0},{"k":12,"x":363,"y":40},{"k":12,"x":423,"y":105},{"k":12,"x":463,"y":166},{"k":12,"x":464,"y":167},{"k":13,"x":335,"y":0},{"k":13,"x":363,"y":17},{"k":13,"x":423,"y":78},{"k":13,"x":463,"y":136},{"k":13,"x":479,"y":167},{"k":14,"x":369,"y":0},{"k":14,"x":423,"y":51},{"k":14,"x":463,"y":107},{"k":14,"x":496,"y":167},{"k":15,"x":396,"y":0},{"k":15,"x":423,"y":24},{"k":15,"x":463,"y":76},{"k":15,"x":505,"y":149.5},{"k":16,"x":426,"y":0},{"k":16,"x":463,"y":46},{"k":16,"x":505,"y":116.5},{"k":17,"x":449,"y":0},{"k":17,"x":463,"y":17},{"k":17,"x":505,"y":83.5},{"k":18,"x":472,"y":0},{"k":18,"x":505,"y":50.5},{"k":19,"x":493,"y":0},{"k":19,"x":505,"y":17.5}]
},
"resolve":{"scale":{"x":"independent","y":"independent","color":"independent"}},
"layer":[
{"data":{"name":"a"},"mark":{"type":"rect"},"encoding":{"x":{"field":"i","type":"ordinal","axis":null,"scale":{"range":[162,594],"paddingInner":0,"paddingOuter":0}},"y":{"field":"j","type":"ordinal","axis":null,"scale":{"range":[285,428],"paddingInner":0,"paddingOuter":0}},"color":{"field":"v","type":"quantitative","scale":{"domain":[-1.04,-0.7,-0.5,-0.3,-0.1,0.05,0.25,0.35,0.5,0.72,0.88,0.97,1.07],"range":["#2a1a8e","#4458b4","#5b9ac8","#8cdce4","#a8ecb0","#c4e848","#e8ea30","#e8b030","#e8701e","#e03020","#a02219","#7e1917","#701412"]},"legend":{"legendX":603,"legendY":284,"values":[1,0.5,0,-0.5,-1],"labelExpr":"''+datum.value","labelFont":"Lato","labelFontSize":17,"labelColor":"#111","labelOffset":15,"labelAlign":"center","labelBaseline":"middle","labelOverlap":false}}}},
{"data":{"name":"a"},"transform":[{"filter":"datum.i<23"}],"mark":{"type":"rect","opacity":0.5},"encoding":{"x":{"field":"i","type":"ordinal","axis":null,"scale":{"range":[171,585],"paddingInner":0,"paddingOuter":0}},"y":{"field":"j","type":"ordinal","axis":null,"scale":{"range":[285,428],"paddingInner":0,"paddingOuter":0}},"color":{"field":"v","type":"quantitative","legend":null,"scale":{"domain":[-1.04,-0.7,-0.5,-0.3,-0.1,0.05,0.25,0.35,0.5,0.72,0.88,0.97,1.07],"range":["#2a1a8e","#4458b4","#5b9ac8","#8cdce4","#a8ecb0","#c4e848","#e8ea30","#e8b030","#e8701e","#e03020","#a02219","#7e1917","#701412"]}}}},
{"data":{"name":"a"},"transform":[{"filter":"datum.j<10"}],"mark":{"type":"rect","opacity":0.33},"encoding":{"x":{"field":"i","type":"ordinal","axis":null,"scale":{"range":[162,594],"paddingInner":0,"paddingOuter":0}},"y":{"field":"j","type":"ordinal","axis":null,"scale":{"range":[292,422],"paddingInner":0,"paddingOuter":0}},"color":{"field":"v","type":"quantitative","legend":null,"scale":{"domain":[-1.04,-0.7,-0.5,-0.3,-0.1,0.05,0.25,0.35,0.5,0.72,0.88,0.97,1.07],"range":["#2a1a8e","#4458b4","#5b9ac8","#8cdce4","#a8ecb0","#c4e848","#e8ea30","#e8b030","#e8701e","#e03020","#a02219","#7e1917","#701412"]}}}},
{"data":{"name":"a"},"transform":[{"filter":"datum.i<23&&datum.j<10"}],"mark":{"type":"rect","opacity":0.25},"encoding":{"x":{"field":"i","type":"ordinal","axis":null,"scale":{"range":[171,585],"paddingInner":0,"paddingOuter":0}},"y":{"field":"j","type":"ordinal","axis":null,"scale":{"range":[292,422],"paddingInner":0,"paddingOuter":0}},"color":{"field":"v","type":"quantitative","legend":null,"scale":{"domain":[-1.04,-0.7,-0.5,-0.3,-0.1,0.05,0.25,0.35,0.5,0.72,0.88,0.97,1.07],"range":["#2a1a8e","#4458b4","#5b9ac8","#8cdce4","#a8ecb0","#c4e848","#e8ea30","#e8b030","#e8701e","#e03020","#a02219","#7e1917","#701412"]}}}},
{"data":{"name":"b"},"mark":{"type":"rect"},"encoding":{"x":{"field":"i","type":"ordinal","axis":null,"scale":{"range":[722,1154],"paddingInner":0,"paddingOuter":0}},"y":{"field":"j","type":"ordinal","axis":null,"scale":{"range":[284,427],"paddingInner":0,"paddingOuter":0}},"color":{"field":"v","type":"quantitative","scale":{"domain":[-1.04,-0.7,-0.5,-0.3,-0.1,0.05,0.25,0.35,0.5,0.72,0.88,0.97,1.07],"range":["#2a1a8e","#4458b4","#5b9ac8","#8cdce4","#a8ecb0","#c4e848","#e8ea30","#e8b030","#e8701e","#e03020","#a02219","#7e1917","#701412"]},"legend":{"legendX":1163,"legendY":284,"values":[1,0.5,0,-0.5,-1],"labelExpr":"''+datum.value","labelFont":"Lato","labelFontSize":17,"labelColor":"#111","labelOffset":15,"labelAlign":"center","labelBaseline":"middle","labelOverlap":false}}}},
{"data":{"name":"b"},"transform":[{"filter":"datum.i<23"}],"mark":{"type":"rect","opacity":0.5},"encoding":{"x":{"field":"i","type":"ordinal","axis":null,"scale":{"range":[731,1145],"paddingInner":0,"paddingOuter":0}},"y":{"field":"j","type":"ordinal","axis":null,"scale":{"range":[284,427],"paddingInner":0,"paddingOuter":0}},"color":{"field":"v","type":"quantitative","legend":null,"scale":{"domain":[-1.04,-0.7,-0.5,-0.3,-0.1,0.05,0.25,0.35,0.5,0.72,0.88,0.97,1.07],"range":["#2a1a8e","#4458b4","#5b9ac8","#8cdce4","#a8ecb0","#c4e848","#e8ea30","#e8b030","#e8701e","#e03020","#a02219","#7e1917","#701412"]}}}},
{"data":{"name":"b"},"transform":[{"filter":"datum.j<10"}],"mark":{"type":"rect","opacity":0.33},"encoding":{"x":{"field":"i","type":"ordinal","axis":null,"scale":{"range":[722,1154],"paddingInner":0,"paddingOuter":0}},"y":{"field":"j","type":"ordinal","axis":null,"scale":{"range":[291,421],"paddingInner":0,"paddingOuter":0}},"color":{"field":"v","type":"quantitative","legend":null,"scale":{"domain":[-1.04,-0.7,-0.5,-0.3,-0.1,0.05,0.25,0.35,0.5,0.72,0.88,0.97,1.07],"range":["#2a1a8e","#4458b4","#5b9ac8","#8cdce4","#a8ecb0","#c4e848","#e8ea30","#e8b030","#e8701e","#e03020","#a02219","#7e1917","#701412"]}}}},
{"data":{"name":"b"},"transform":[{"filter":"datum.i<23&&datum.j<10"}],"mark":{"type":"rect","opacity":0.25},"encoding":{"x":{"field":"i","type":"ordinal","axis":null,"scale":{"range":[731,1145],"paddingInner":0,"paddingOuter":0}},"y":{"field":"j","type":"ordinal","axis":null,"scale":{"range":[291,421],"paddingInner":0,"paddingOuter":0}},"color":{"field":"v","type":"quantitative","legend":null,"scale":{"domain":[-1.04,-0.7,-0.5,-0.3,-0.1,0.05,0.25,0.35,0.5,0.72,0.88,0.97,1.07],"range":["#2a1a8e","#4458b4","#5b9ac8","#8cdce4","#a8ecb0","#c4e848","#e8ea30","#e8b030","#e8701e","#e03020","#a02219","#7e1917","#701412"]}}}},
{"data":{"name":"c"},"mark":{"type":"rect"},"encoding":{"x":{"field":"i","type":"ordinal","axis":null,"scale":{"range":[163,595],"paddingInner":0,"paddingOuter":0}},"y":{"field":"j","type":"ordinal","axis":null,"scale":{"range":[544,687],"paddingInner":0,"paddingOuter":0}},"color":{"field":"v","type":"quantitative","scale":{"domain":[-1.04,-0.7,-0.5,-0.3,-0.1,0.05,0.25,0.35,0.5,0.72,0.88,0.97,1.07],"range":["#2a1a8e","#4458b4","#5b9ac8","#8cdce4","#a8ecb0","#c4e848","#e8ea30","#e8b030","#e8701e","#e03020","#a02219","#7e1917","#701412"]},"legend":{"legendX":604,"legendY":543,"values":[1,0.5,0,-0.5,-1],"labelExpr":"''+datum.value","labelFont":"Lato","labelFontSize":17,"labelColor":"#111","labelOffset":15,"labelAlign":"center","labelBaseline":"middle","labelOverlap":false}}}},
{"data":{"name":"c"},"transform":[{"filter":"datum.i<23"}],"mark":{"type":"rect","opacity":0.5},"encoding":{"x":{"field":"i","type":"ordinal","axis":null,"scale":{"range":[172,586],"paddingInner":0,"paddingOuter":0}},"y":{"field":"j","type":"ordinal","axis":null,"scale":{"range":[544,687],"paddingInner":0,"paddingOuter":0}},"color":{"field":"v","type":"quantitative","legend":null,"scale":{"domain":[-1.04,-0.7,-0.5,-0.3,-0.1,0.05,0.25,0.35,0.5,0.72,0.88,0.97,1.07],"range":["#2a1a8e","#4458b4","#5b9ac8","#8cdce4","#a8ecb0","#c4e848","#e8ea30","#e8b030","#e8701e","#e03020","#a02219","#7e1917","#701412"]}}}},
{"data":{"name":"c"},"transform":[{"filter":"datum.j<10"}],"mark":{"type":"rect","opacity":0.33},"encoding":{"x":{"field":"i","type":"ordinal","axis":null,"scale":{"range":[163,595],"paddingInner":0,"paddingOuter":0}},"y":{"field":"j","type":"ordinal","axis":null,"scale":{"range":[551,681],"paddingInner":0,"paddingOuter":0}},"color":{"field":"v","type":"quantitative","legend":null,"scale":{"domain":[-1.04,-0.7,-0.5,-0.3,-0.1,0.05,0.25,0.35,0.5,0.72,0.88,0.97,1.07],"range":["#2a1a8e","#4458b4","#5b9ac8","#8cdce4","#a8ecb0","#c4e848","#e8ea30","#e8b030","#e8701e","#e03020","#a02219","#7e1917","#701412"]}}}},
{"data":{"name":"c"},"transform":[{"filter":"datum.i<23&&datum.j<10"}],"mark":{"type":"rect","opacity":0.25},"encoding":{"x":{"field":"i","type":"ordinal","axis":null,"scale":{"range":[172,586],"paddingInner":0,"paddingOuter":0}},"y":{"field":"j","type":"ordinal","axis":null,"scale":{"range":[551,681],"paddingInner":0,"paddingOuter":0}},"color":{"field":"v","type":"quantitative","legend":null,"scale":{"domain":[-1.04,-0.7,-0.5,-0.3,-0.1,0.05,0.25,0.35,0.5,0.72,0.88,0.97,1.07],"range":["#2a1a8e","#4458b4","#5b9ac8","#8cdce4","#a8ecb0","#c4e848","#e8ea30","#e8b030","#e8701e","#e03020","#a02219","#7e1917","#701412"]}}}},
{"data":{"name":"d"},"mark":{"type":"rect"},"encoding":{"x":{"field":"i","type":"ordinal","axis":null,"scale":{"range":[723,1155],"paddingInner":0,"paddingOuter":0}},"y":{"field":"j","type":"ordinal","axis":null,"scale":{"range":[544,687],"paddingInner":0,"paddingOuter":0}},"color":{"field":"v","type":"quantitative","scale":{"domain":[-1.04,-0.7,-0.5,-0.3,-0.1,0.05,0.25,0.35,0.5,0.72,0.88,0.97,1.07],"range":["#2a1a8e","#4458b4","#5b9ac8","#8cdce4","#a8ecb0","#c4e848","#e8ea30","#e8b030","#e8701e","#e03020","#a02219","#7e1917","#701412"]},"legend":{"legendX":1164,"legendY":543,"values":[1,0.5,0,-0.5,-1],"labelExpr":"''+datum.value","labelFont":"Lato","labelFontSize":17,"labelColor":"#111","labelOffset":15,"labelAlign":"center","labelBaseline":"middle","labelOverlap":false}}}},
{"data":{"name":"d"},"transform":[{"filter":"datum.i<23"}],"mark":{"type":"rect","opacity":0.5},"encoding":{"x":{"field":"i","type":"ordinal","axis":null,"scale":{"range":[732,1146],"paddingInner":0,"paddingOuter":0}},"y":{"field":"j","type":"ordinal","axis":null,"scale":{"range":[544,687],"paddingInner":0,"paddingOuter":0}},"color":{"field":"v","type":"quantitative","legend":null,"scale":{"domain":[-1.04,-0.7,-0.5,-0.3,-0.1,0.05,0.25,0.35,0.5,0.72,0.88,0.97,1.07],"range":["#2a1a8e","#4458b4","#5b9ac8","#8cdce4","#a8ecb0","#c4e848","#e8ea30","#e8b030","#e8701e","#e03020","#a02219","#7e1917","#701412"]}}}},
{"data":{"name":"d"},"transform":[{"filter":"datum.j<10"}],"mark":{"type":"rect","opacity":0.33},"encoding":{"x":{"field":"i","type":"ordinal","axis":null,"scale":{"range":[723,1155],"paddingInner":0,"paddingOuter":0}},"y":{"field":"j","type":"ordinal","axis":null,"scale":{"range":[551,681],"paddingInner":0,"paddingOuter":0}},"color":{"field":"v","type":"quantitative","legend":null,"scale":{"domain":[-1.04,-0.7,-0.5,-0.3,-0.1,0.05,0.25,0.35,0.5,0.72,0.88,0.97,1.07],"range":["#2a1a8e","#4458b4","#5b9ac8","#8cdce4","#a8ecb0","#c4e848","#e8ea30","#e8b030","#e8701e","#e03020","#a02219","#7e1917","#701412"]}}}},
{"data":{"name":"d"},"transform":[{"filter":"datum.i<23&&datum.j<10"}],"mark":{"type":"rect","opacity":0.25},"encoding":{"x":{"field":"i","type":"ordinal","axis":null,"scale":{"range":[732,1146],"paddingInner":0,"paddingOuter":0}},"y":{"field":"j","type":"ordinal","axis":null,"scale":{"range":[551,681],"paddingInner":0,"paddingOuter":0}},"color":{"field":"v","type":"quantitative","legend":null,"scale":{"domain":[-1.04,-0.7,-0.5,-0.3,-0.1,0.05,0.25,0.35,0.5,0.72,0.88,0.97,1.07],"range":["#2a1a8e","#4458b4","#5b9ac8","#8cdce4","#a8ecb0","#c4e848","#e8ea30","#e8b030","#e8701e","#e03020","#a02219","#7e1917","#701412"]}}}},
{"data":{"name":"fibre"},"mark":{"type":"line","color":"#4a55b6","strokeWidth":1.3},"encoding":{"detail":{"field":"k"},"order":{"field":"x"},"x":{"field":"x","type":"quantitative","axis":null,"scale":{"domain":[0,505],"range":[437,942]}},"y":{"field":"y","type":"quantitative","axis":null,"scale":{"domain":[0,167],"range":[765,932]}}}},
{"data":{"name":"fibre"},"mark":{"type":"line","color":"#4a55b6","strokeWidth":1.3},"encoding":{"detail":{"field":"k"},"order":{"field":"x"},"x":{"field":"x","type":"quantitative","axis":null,"scale":{"domain":[0,505],"range":[437,942]}},"y":{"field":"y","type":"quantitative","axis":null,"scale":{"domain":[0,167],"range":[932,765]}}}},
{"data":{"values":[{"x":10,"x2":1247,"y":153,"y2":153},{"x":10,"x2":1247,"y":229,"y2":229},{"x":10,"x2":1247,"y":487,"y2":487},{"x":10,"x2":1247,"y":747,"y2":747},{"x":129,"x2":129,"y":153,"y2":747},{"x":689,"x2":689,"y":153,"y2":747}]},"mark":{"type":"rule","color":"#666","strokeWidth":1.2},"encoding":{"x":{"field":"x","type":"quantitative","axis":null,"scale":{"domain":[0,1247],"range":[0,1247]}},"x2":{"field":"x2"},"y":{"field":"y","type":"quantitative","axis":null,"scale":{"domain":[0,934],"range":[0,934]}},"y2":{"field":"y2"}}},
{"data":{"values":[{"x":10,"x2":10,"y":153,"y2":747}]},"mark":{"type":"rule","color":"#c4c4c4","strokeWidth":1},"encoding":{"x":{"field":"x","type":"quantitative","axis":null,"scale":{"domain":[0,1247],"range":[0,1247]}},"x2":{"field":"x2"},"y":{"field":"y","type":"quantitative","axis":null,"scale":{"domain":[0,934],"range":[0,934]}},"y2":{"field":"y2"}}},
{"data":{"values":[{"x":768,"x2":768,"y":10,"y2":123},{"x":768,"x2":955,"y":37,"y2":37},{"x":768,"x2":955,"y":95,"y2":95},{"x":955,"x2":955,"y":37,"y2":95},{"x":955,"x2":955,"y":100,"y2":124}]},"mark":{"type":"rule","color":"#111","strokeWidth":1.6},"encoding":{"x":{"field":"x","type":"quantitative","axis":null,"scale":{"domain":[0,1247],"range":[0,1247]}},"x2":{"field":"x2"},"y":{"field":"y","type":"quantitative","axis":null,"scale":{"domain":[0,934],"range":[0,934]}},"y2":{"field":"y2"}}},
{"data":{"values":[{"x":768,"x2":955,"y":27,"y2":27},{"x":955,"x2":955,"y":24,"y2":37},{"x":955,"x2":969,"y":37,"y2":37},{"x":955,"x2":969,"y":95,"y2":95},{"x":964,"x2":964,"y":37,"y2":95},{"x":746,"x2":764,"y":28,"y2":10},{"x":746,"x2":768,"y":36,"y2":14},{"x":746,"x2":768,"y":44,"y2":22},{"x":746,"x2":768,"y":52,"y2":30},{"x":746,"x2":768,"y":60,"y2":38},{"x":746,"x2":768,"y":68,"y2":46},{"x":746,"x2":768,"y":76,"y2":54},{"x":746,"x2":768,"y":84,"y2":62},{"x":746,"x2":768,"y":92,"y2":70},{"x":746,"x2":768,"y":100,"y2":78},{"x":746,"x2":768,"y":108,"y2":86},{"x":746,"x2":768,"y":116,"y2":94},{"x":748,"x2":768,"y":122,"y2":102},{"x":756,"x2":768,"y":122,"y2":110}]},"mark":{"type":"rule","color":"#222","strokeWidth":0.9},"encoding":{"x":{"field":"x","type":"quantitative","axis":null,"scale":{"domain":[0,1247],"range":[0,1247]}},"x2":{"field":"x2"},"y":{"field":"y","type":"quantitative","axis":null,"scale":{"domain":[0,934],"range":[0,934]}},"y2":{"field":"y2"}}},
{"data":{"values":[{"x":955,"y":125}]},"mark":{"type":"point","shape":"triangle-down","filled":true,"color":"#111","size":55,"opacity":1},"encoding":{"x":{"field":"x","type":"quantitative","axis":null,"scale":{"domain":[0,1247],"range":[0,1247]}},"y":{"field":"y","type":"quantitative","axis":null,"scale":{"domain":[0,934],"range":[0,934]}}}},
{"data":{"values":[{"t":"Hybrid control method","x":120,"y":58}]},"mark":{"type":"text","align":"left","baseline":"alphabetic","font":"Lato","fontWeight":"bold","fontSize":34.5,"color":"#111"},"encoding":{"text":{"field":"t"},"x":{"field":"x","type":"quantitative","axis":null,"scale":{"domain":[0,1247],"range":[0,1247]}},"y":{"field":"y","type":"quantitative","axis":null,"scale":{"domain":[0,934],"range":[0,934]}}}},
{"data":{"values":[{"t":"Step 1","x":16,"y":336},{"t":"Step 2","x":16,"y":595},{"t":"Step 3","x":279,"y":847}]},"mark":{"type":"text","align":"left","baseline":"alphabetic","font":"Lato","fontSize":34,"color":"#111"},"encoding":{"text":{"field":"t"},"x":{"field":"x","type":"quantitative","axis":null,"scale":{"domain":[0,1247],"range":[0,1247]}},"y":{"field":"y","type":"quantitative","axis":null,"scale":{"domain":[0,934],"range":[0,934]}}}},
{"data":{"values":[{"t":"24 layers","x":16,"y":699},{"t":"(6 design)","x":16,"y":731},{"t":"(first layer)","x":266,"y":881}]},"mark":{"type":"text","align":"left","baseline":"alphabetic","font":"Lato","fontSize":26,"color":"#111"},"encoding":{"text":{"field":"t"},"x":{"field":"x","type":"quantitative","axis":null,"scale":{"domain":[0,1247],"range":[0,1247]}},"y":{"field":"y","type":"quantitative","axis":null,"scale":{"domain":[0,934],"range":[0,934]}}}},
{"data":{"values":[{"t":"δ = 0.8","x":201,"y":97},{"t":"ζ","x":201,"y":130},{"t":"= 1/","x":256,"y":130},{"t":"= \u00a00.8 m","x":437,"y":130},{"t":"= 1.2 m","x":1060,"y":56},{"t":"= 0.4 m","x":1060,"y":90},{"t":"δ = 0.8","x":25,"y":388},{"t":"= \u00a00.8","x":57,"y":650}]},"mark":{"type":"text","align":"left","baseline":"alphabetic","font":"Liberation Serif","fontSize":28,"color":"#111"},"encoding":{"text":{"field":"t"},"x":{"field":"x","type":"quantitative","axis":null,"scale":{"domain":[0,1247],"range":[0,1247]}},"y":{"field":"y","type":"quantitative","axis":null,"scale":{"domain":[0,934],"range":[0,934]}}}},
{"data":{"values":[{"t":"r","x":301,"y":130},{"t":"r","x":393,"y":130},{"t":"a","x":1041,"y":56},{"t":"b","x":1041,"y":90},{"t":"r","x":12,"y":650},{"t":"a","x":855,"y":24},{"t":"b","x":973,"y":69},{"t":"F","x":969,"y":126}]},"mark":{"type":"text","align":"left","baseline":"alphabetic","font":"Liberation Serif","fontStyle":"italic","fontSize":28,"color":"#111"},"encoding":{"text":{"field":"t"},"x":{"field":"x","type":"quantitative","axis":null,"scale":{"domain":[0,1247],"range":[0,1247]}},"y":{"field":"y","type":"quantitative","axis":null,"scale":{"domain":[0,934],"range":[0,934]}}}},
{"data":{"values":[{"t":"max","x":214,"y":137},{"t":"min","x":311,"y":137},{"t":"min","x":403,"y":137},{"t":"min","x":26,"y":657}]},"mark":{"type":"text","align":"left","baseline":"alphabetic","font":"Liberation Serif","fontSize":16,"color":"#111"},"encoding":{"text":{"field":"t"},"x":{"field":"x","type":"quantitative","axis":null,"scale":{"domain":[0,1247],"range":[0,1247]}},"y":{"field":"y","type":"quantitative","axis":null,"scale":{"domain":[0,934],"range":[0,934]}}}},
{"data":{"values":[{"t":"V","x":394,"y":197},{"t":"V","x":952,"y":197}]},"mark":{"type":"text","align":"left","baseline":"alphabetic","font":"Liberation Serif","fontStyle":"italic","fontSize":38,"color":"#111"},"encoding":{"text":{"field":"t"},"x":{"field":"x","type":"quantitative","axis":null,"scale":{"domain":[0,1247],"range":[0,1247]}},"y":{"field":"y","type":"quantitative","axis":null,"scale":{"domain":[0,934],"range":[0,934]}}}},
{"data":{"values":[{"t":"1","x":417,"y":210},{"t":"3","x":975,"y":210}]},"mark":{"type":"text","align":"left","baseline":"alphabetic","font":"Liberation Serif","fontSize":20,"color":"#111"},"encoding":{"text":{"field":"t"},"x":{"field":"x","type":"quantitative","axis":null,"scale":{"domain":[0,1247],"range":[0,1247]}},"y":{"field":"y","type":"quantitative","axis":null,"scale":{"domain":[0,934],"range":[0,934]}}}}
]}
